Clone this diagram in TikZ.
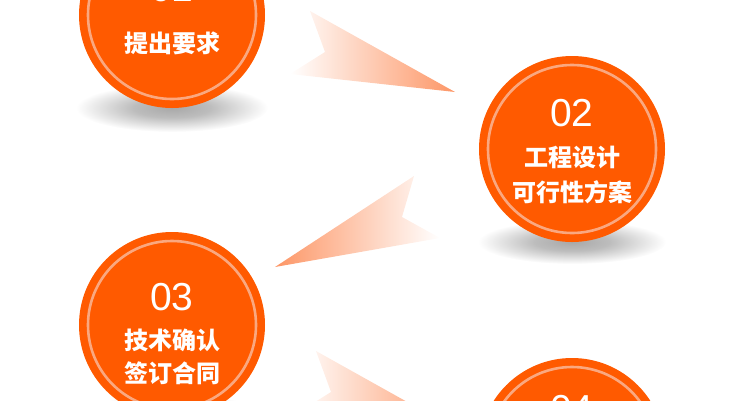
\documentclass[tikz,border=0pt]{standalone}
\usepackage{fontspec}
\setmainfont{Liberation Sans}
\newfontfamily\cjk{Noto Sans CJK SC}
\usetikzlibrary{shadings}
\definecolor{orng}{RGB}{255,90,0}
\definecolor{ringc}{RGB}{250,168,128}
\definecolor{salmon}{RGB}{253,150,102}
\pgfdeclareradialshading{shadowshade}{\pgfpoint{0bp}{0bp}}{color(0bp)=(black!34); color(10bp)=(black!26); color(25bp)=(white); color(50bp)=(white)}
\tikzset{
  disc/.style={circle, fill=orng, minimum size=186pt, inner sep=0pt},
  ringline/.style={draw=ringc, line width=2.6pt},
  numtxt/.style={text=white, font=\fontsize{39}{40}\selectfont, inner sep=0pt},
  cjktxt/.style={text=white, font=\cjk\bfseries\fontsize{24}{26}\selectfont, inner sep=0pt},
  shadowell/.style={shading=shadowshade},
  arrowR/.style={left color=white, right color=salmon},
  arrowL/.style={left color=salmon, right color=white}
}
\begin{document}
\begin{tikzpicture}[x=1pt,y=-1pt]
\useasboundingbox (0,0) rectangle (750,400);
\clip (0,0) rectangle (750,400);
% shadows
\shade[shadowell] (172,108) ellipse [x radius=96, y radius=24];
\shade[shadowell] (572,242) ellipse [x radius=94, y radius=22];
\shade[shadowell] (172,418) ellipse [x radius=96, y radius=24];
% arrows
\shade[arrowR] (310,11) -- (455,92) -- (290,74) -- (325,52) -- cycle;
\shade[arrowL] (414,176) -- (402,217) -- (440,238) -- (275,267) -- cycle;
\shade[arrowR] (316,351) -- (461,432) -- (296,414) -- (331,392) -- cycle;
% circles
\node[disc] (c1) at (172,15) {};
\node[disc] (c2) at (572,149) {};
\node[disc] (c3) at (172,325) {};
\node[disc] (c4) at (572,451) {};
\draw[ringline] (c1.center) circle (84);
\draw[ringline] (c2.center) circle (84);
\draw[ringline] (c3.center) circle (84);
\draw[ringline] (c4.center) circle (84);
% texts
\node[numtxt] (n1) at (172,-12) {01};
\node[cjktxt] (t1) at (172,43) {提出要求};
\node[numtxt] (n2) at (572,113) {02};
\node[cjktxt] (t2a) at (572,157) {工程设计};
\node[cjktxt] (t2b) at (572,192) {可行性方案};
\node[numtxt] (n3) at (172,297) {03};
\node[cjktxt] (t3a) at (172,340) {技术确认};
\node[cjktxt] (t3b) at (172,373) {签订合同};
\node[numtxt] (n4) at (572,409) {04};
\end{tikzpicture}
\end{document}
